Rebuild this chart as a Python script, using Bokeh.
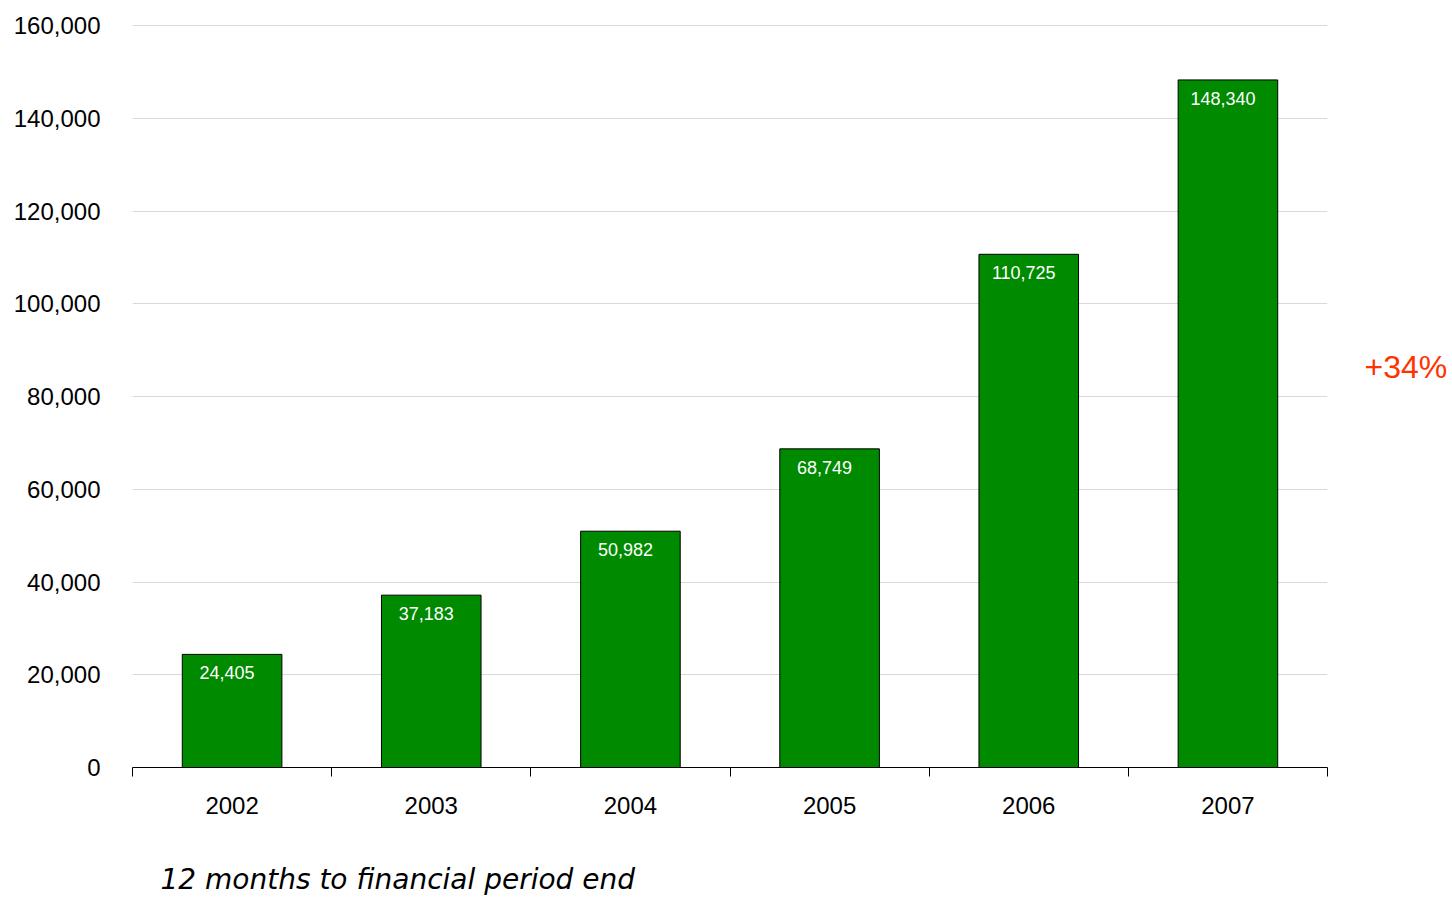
from bokeh.plotting import figure
from bokeh.models import Range1d, FixedTicker, NumeralTickFormatter, ColumnDataSource, LinearAxis, Title
from bokeh.core.properties import value
from bokeh.embed import file_html
from bokeh.resources import INLINE

years = ["2002", "2003", "2004", "2005", "2006", "2007"]
revenue = [24405, 37183, 50982, 68749, 110725, 148340]
bar_labels = ["24,405", "37,183", "50,982", "68,749", "110,725", "148,340"]
y_ticks = [0, 20000, 40000, 60000, 80000, 100000, 120000, 140000, 160000]
growth_text = "+34%"
growth_y = 86350
subtitle_text = "12 months to financial period end"

FONT = "Liberation Sans"

xs = [i + 0.5 for i in range(len(years))]
src = ColumnDataSource(dict(x=xs, top=revenue, lab=bar_labels))

p = figure(width=1450, height=895, output_backend="svg", toolbar_location=None,
           x_range=Range1d(0, len(years)), y_range=Range1d(0, 160300),
           min_border_left=132, min_border_right=122, min_border_top=24, min_border_bottom=20)
p.outline_line_color = None
p.background_fill_color = "white"

p.vbar(x="x", top="top", bottom=0, width=0.5, source=src,
       fill_color="#008a00", line_color="black", line_width=1)

p.text(x="x", y="top", text="lab", source=src, text_color="white",
       text_font=value(FONT), text_font_size="18px", text_align="center",
       text_baseline="top", x_offset=-5, y_offset=12)

# y axis
p.yaxis.ticker = FixedTicker(ticks=y_ticks)
p.yaxis.formatter = NumeralTickFormatter(format="0,0")
p.yaxis.axis_line_color = None
p.yaxis.major_tick_line_color = None
p.yaxis.minor_tick_line_color = None
p.yaxis.major_tick_out = 0
p.yaxis.major_tick_in = 0
p.yaxis.major_label_standoff = 32
p.yaxis.major_label_text_font = FONT
p.yaxis.major_label_text_font_size = "24px"
p.yaxis.major_label_text_color = "black"

p.ygrid.grid_line_color = "#d9d9d9"
p.ygrid.ticker = FixedTicker(ticks=y_ticks)
p.xgrid.grid_line_color = None

# x axis: labels at centres, ticks at category boundaries
p.xaxis.ticker = FixedTicker(ticks=xs, minor_ticks=list(range(len(years) + 1)))
p.xaxis.major_label_overrides = {x: y for x, y in zip(xs, years)}
p.xaxis.major_tick_line_color = None
p.xaxis.major_tick_out = 0
p.xaxis.major_tick_in = 0
p.xaxis.minor_tick_line_color = "black"
p.xaxis.minor_tick_out = 9
p.xaxis.minor_tick_in = 0
p.xaxis.axis_line_color = "black"
p.xaxis.major_label_standoff = 20
p.xaxis.major_label_text_font = FONT
p.xaxis.major_label_text_font_size = "24px"
p.xaxis.major_label_text_color = "black"

# growth annotation as a right-hand axis label
ax_r = LinearAxis(ticker=FixedTicker(ticks=[growth_y]),
                  major_label_overrides={growth_y: growth_text})
ax_r.axis_line_color = None
ax_r.major_tick_line_color = None
ax_r.minor_tick_line_color = None
ax_r.major_tick_out = 0
ax_r.major_tick_in = 0
ax_r.major_label_standoff = 37
ax_r.major_label_text_font = FONT
ax_r.major_label_text_font_size = "32px"
ax_r.major_label_text_color = "#ff3300"
p.add_layout(ax_r, "right")

# spacer between axis and subtitle
spacer = Title(text=" ", text_font_size="1px", standoff=41)
p.add_layout(spacer, "below")

# subtitle
t = Title(text=subtitle_text, align="left", offset=28, text_font="DejaVu Sans",
          text_font_style="italic", text_font_size="28px", text_color="black",
          standoff=0)
p.add_layout(t, "below")

open("out.html", "w").write(file_html(p, INLINE))
